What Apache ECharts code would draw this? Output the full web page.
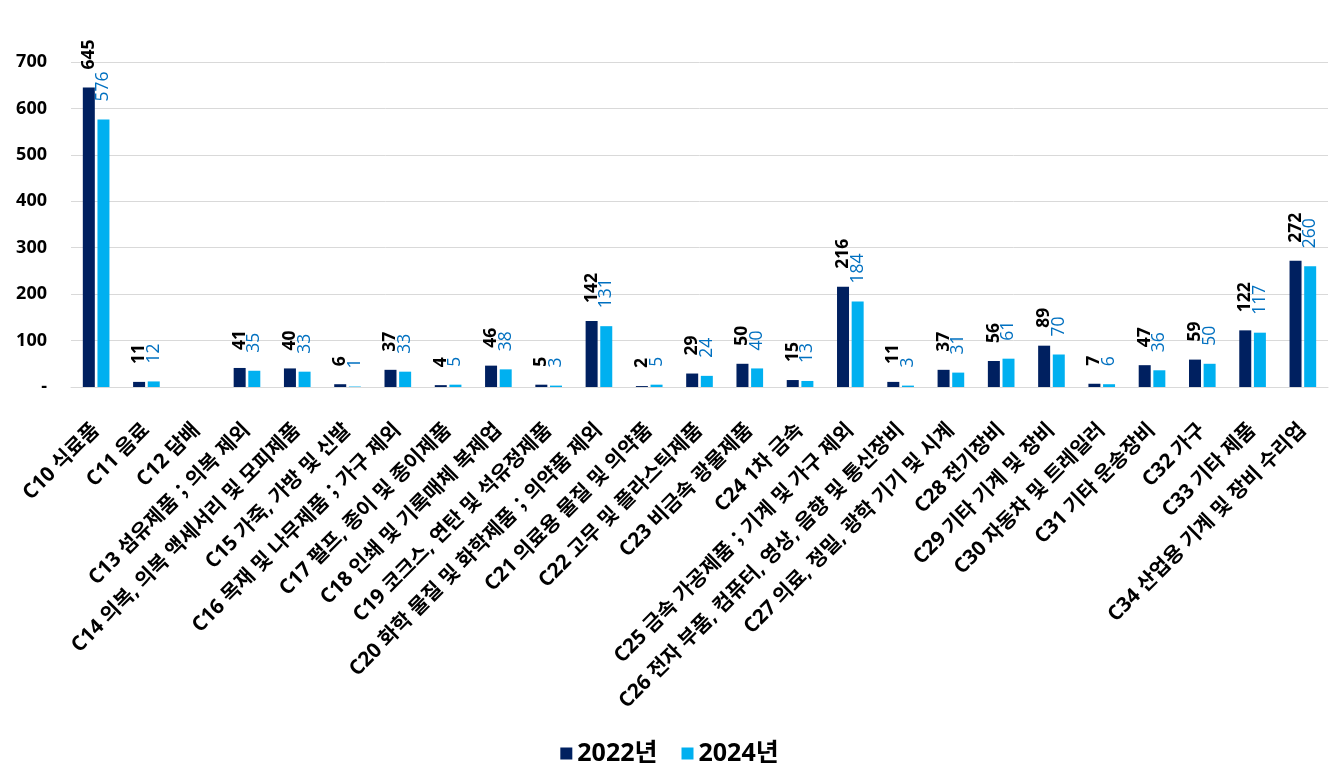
<!DOCTYPE html>
<html>
<head>
<meta charset="utf-8">
<script src="https://cdn.jsdelivr.net/npm/echarts@6/dist/echarts.min.js"></script>
<style>
html,body{margin:0;padding:0;background:#fff;}
#chart{width:1339px;height:776px;}
</style>
</head>
<body>
<div id="chart"></div>
<script>
const categories = [
  'C10 식료품','C11 음료','C12 담배','C13 섬유제품；의복 제외','C14 의복, 의복 액세서리 및 모피제품',
  'C15 가죽, 가방 및 신발','C16 목재 및 나무제품；가구 제외','C17 펄프, 종이 및 종이제품','C18 인쇄 및 기록매체 복제업',
  'C19 코크스, 연탄 및 석유정제품','C20 화학 물질 및 화학제품；의약품 제외','C21 의료용 물질 및 의약품','C22 고무 및 플라스틱제품',
  'C23 비금속 광물제품','C24 1차 금속','C25 금속 가공제품；기계 및 가구 제외','C26 전자 부품, 컴퓨터, 영상, 음향 및 통신장비',
  'C27 의료, 정밀, 광학 기기 및 시계','C28 전기장비','C29 기타 기계 및 장비','C30 자동차 및 트레일러','C31 기타 운송장비',
  'C32 가구','C33 기타 제품','C34 산업용 기계 및 장비 수리업'
];
const values2022 = [645, 11, null, 41, 40, 6, 37, 4, 46, 5, 142, 2, 29, 50, 15, 216, 11, 37, 56, 89, 7, 47, 59, 122, 272];
const values2024 = [576, 12, null, 35, 33, 1, 33, 5, 38, 3, 131, 5, 24, 40, 13, 184, 3, 31, 61, 70, 6, 36, 50, 117, 260];
const seriesNames = ['2022년', '2024년'];
const yTicks = {min: 0, max: 700, interval: 100};

const FONT = "'Open Sans', 'Noto Sans CJK KR', sans-serif";
const chart = echarts.init(document.getElementById('chart'));
chart.setOption({
  animation: false,
  textStyle: {fontFamily: FONT},
  grid: {left: 71, right: 11, top: 62, bottom: 389, containLabel: false},
  legend: {
    bottom: 5, left: 'center',
    itemWidth: 12, itemHeight: 12, itemGap: 24,
    icon: 'rect',
    textStyle: {fontSize: 25, fontWeight: 'bold', color: '#000', fontFamily: FONT},
    data: seriesNames
  },
  xAxis: {
    type: 'category',
    data: categories,
    axisLine: {lineStyle: {color: '#d9d9d9'}},
    axisTick: {show: false},
    axisLabel: {
      interval: 0, rotate: 45, margin: 40,
      fontSize: 20.5, fontWeight: 'bold', color: '#000', fontFamily: FONT
    }
  },
  yAxis: {
    type: 'value',
    min: yTicks.min, max: yTicks.max, interval: yTicks.interval,
    axisLine: {show: false},
    axisTick: {show: false},
    splitLine: {lineStyle: {color: '#d9d9d9'}},
    axisLabel: {
      margin: 24, fontSize: 18, fontWeight: 'bold', color: '#000', fontFamily: FONT,
      formatter: v => v === 0 ? '-' : String(v)
    }
  },
  series: [
    {
      name: seriesNames[0], type: 'bar', data: values2022,
      barWidth: 12, barGap: '22%',
      itemStyle: {color: '#002060'},
      label: {
        show: true, position: 'top', rotate: 90, align: 'left', verticalAlign: 'middle',
        distance: 18, fontSize: 17.5, fontWeight: 'bold', color: '#000', fontFamily: FONT
      }
    },
    {
      name: seriesNames[1], type: 'bar', data: values2024,
      barWidth: 12,
      itemStyle: {color: '#00b0f0'},
      label: {
        show: true, position: 'top', rotate: 90, align: 'left', verticalAlign: 'middle',
        distance: 18, fontSize: 17.5, fontWeight: 'normal', color: '#0070c0', fontFamily: FONT
      }
    }
  ]
});
</script>
</body>
</html>
